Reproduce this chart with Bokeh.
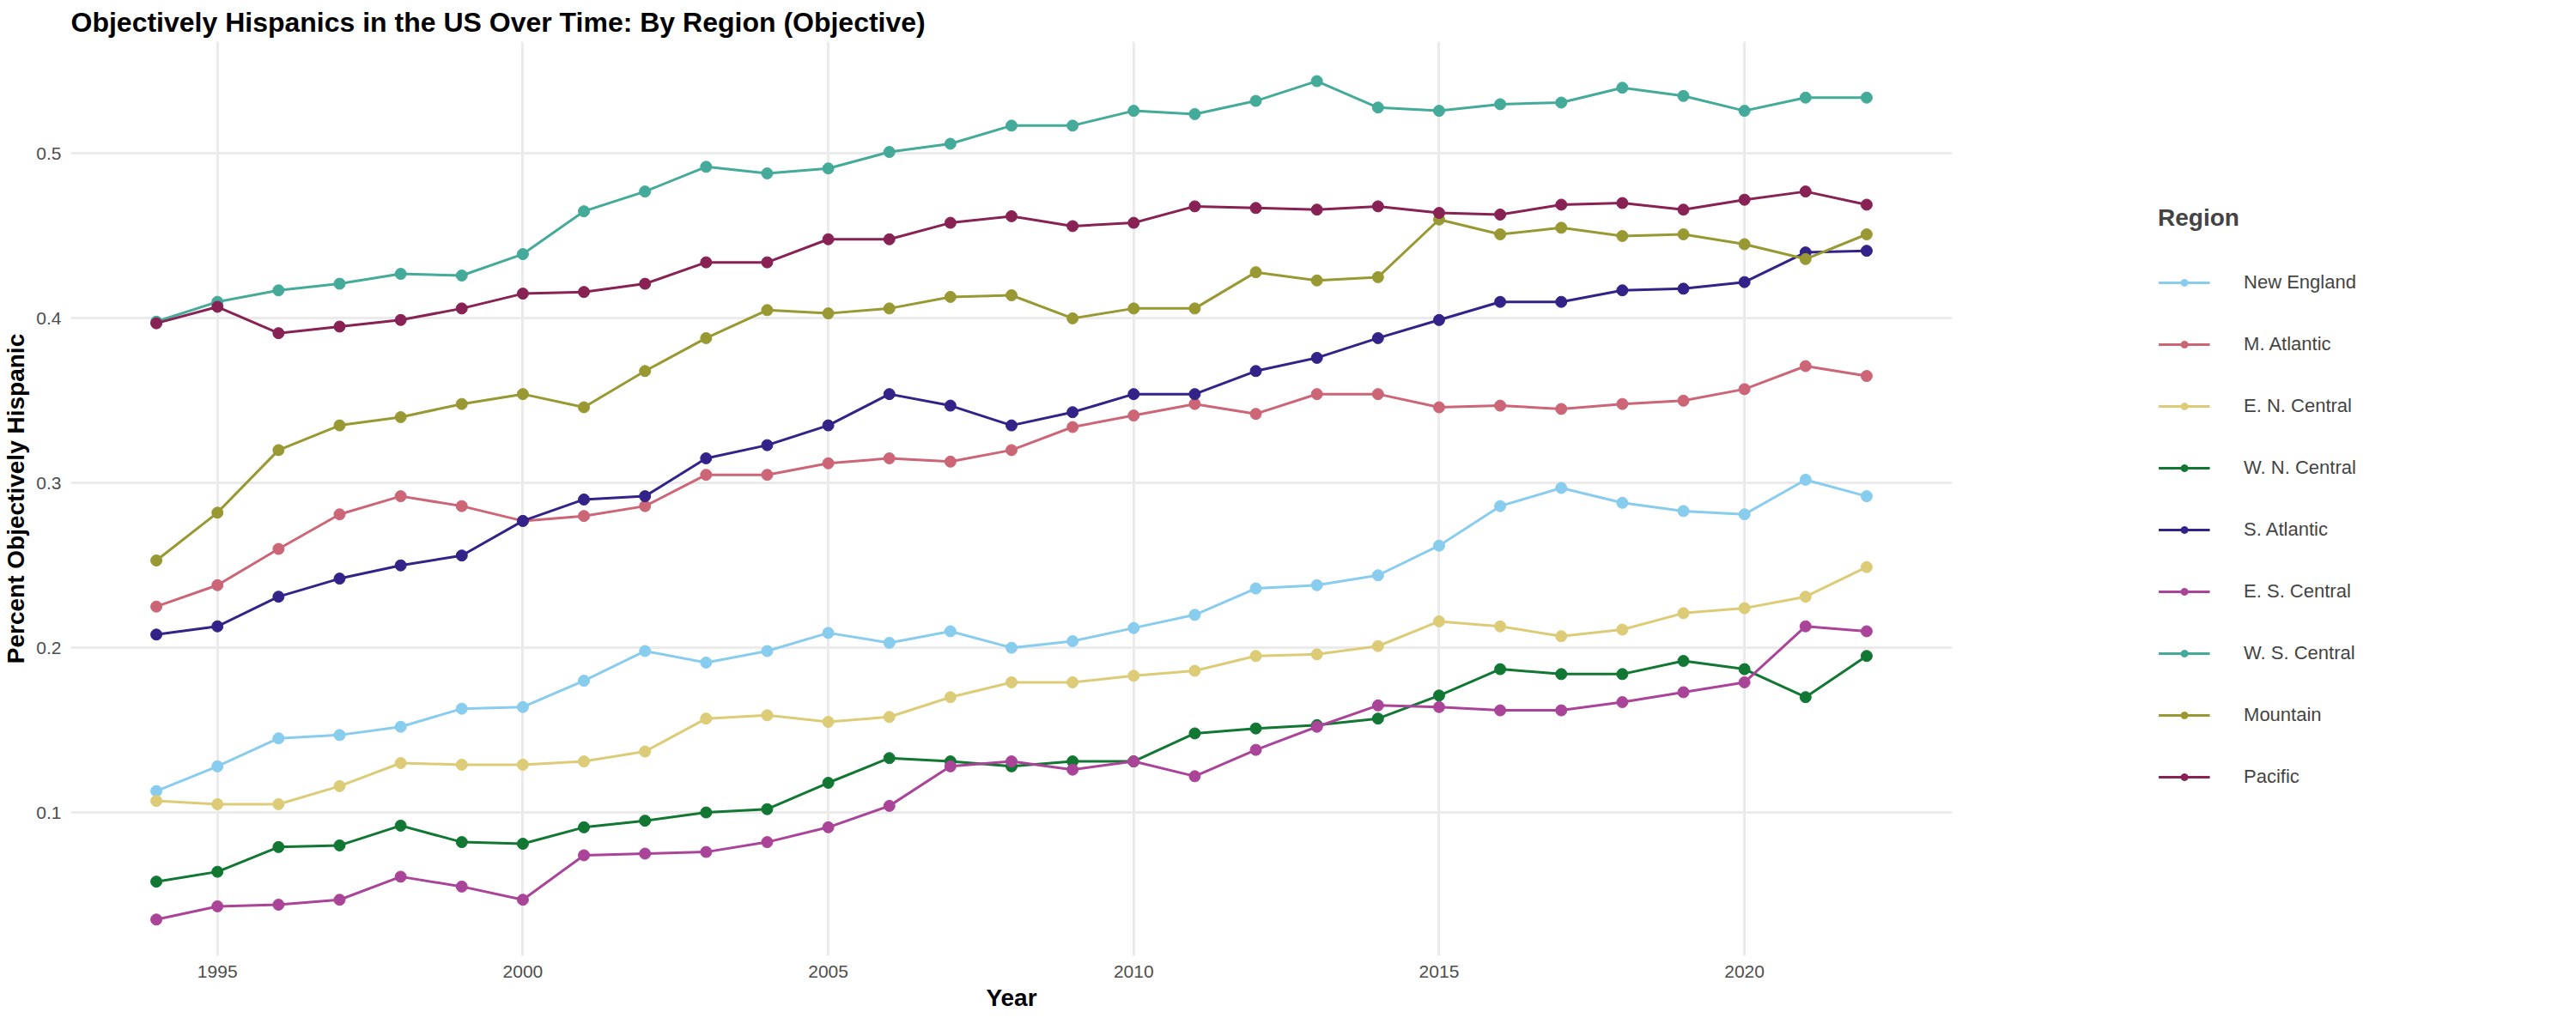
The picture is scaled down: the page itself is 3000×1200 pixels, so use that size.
from bokeh.plotting import figure
from bokeh.models import Legend, LegendItem, FixedTicker
from bokeh.embed import file_html
from bokeh.resources import INLINE

years = list(range(1994, 2023))

regions = ["New England", "M. Atlantic", "E. N. Central", "W. N. Central", "S. Atlantic",
           "E. S. Central", "W. S. Central", "Mountain", "Pacific"]
colors = ["#88CCEE", "#CC6677", "#DDCC77", "#117733", "#332288",
          "#AA4499", "#44AA99", "#999933", "#882255"]

new_england = [.113, .128, .145, .147, .152, .163, .164, .180, .198, .191, .198, .209, .203, .210, .200,
               .204, .212, .220, .236, .238, .244, .262, .286, .297, .288, .283, .281, .302, .292]
m_atlantic = [.225, .238, .260, .281, .292, .286, .277, .280, .286, .305, .305, .312, .315, .313, .320,
              .334, .341, .348, .342, .354, .354, .346, .347, .345, .348, .350, .357, .371, .365]
en_central = [.107, .105, .105, .116, .130, .129, .129, .131, .137, .157, .159, .155, .158, .170, .179,
              .179, .183, .186, .195, .196, .201, .216, .213, .207, .211, .221, .224, .231, .249]
wn_central = [.058, .064, .079, .080, .092, .082, .081, .091, .095, .100, .102, .118, .133, .131, .128,
              .131, .131, .148, .151, .153, .157, .171, .187, .184, .184, .192, .187, .170, .195]
s_atlantic = [.208, .213, .231, .242, .250, .256, .277, .290, .292, .315, .323, .335, .354, .347, .335,
              .343, .354, .354, .368, .376, .388, .399, .410, .410, .417, .418, .422, .440, .441]
es_central = [.035, .043, .044, .047, .061, .055, .047, .074, .075, .076, .082, .091, .104, .128, .131,
              .126, .131, .122, .138, .152, .165, .164, .162, .162, .167, .173, .179, .213, .210]
ws_central = [.398, .410, .417, .421, .427, .426, .439, .465, .477, .492, .488, .491, .501, .506, .517,
              .517, .526, .524, .532, .544, .528, .526, .530, .531, .540, .535, .526, .534, .534]
mountain = [.253, .282, .320, .335, .340, .348, .354, .346, .368, .388, .405, .403, .406, .413, .414,
            .400, .406, .406, .428, .423, .425, .460, .451, .455, .450, .451, .445, .436, .451]
pacific = [.397, .407, .391, .395, .399, .406, .415, .416, .421, .434, .434, .448, .448, .458, .462,
           .456, .458, .468, .467, .466, .468, .464, .463, .469, .470, .466, .472, .477, .469]

series = [new_england, m_atlantic, en_central, wn_central, s_atlantic,
          es_central, ws_central, mountain, pacific]

p = figure(width=2984, height=1180, output_backend="svg", toolbar_location=None,
           title="Objectively Hispanics in the US Over Time: By Region (Objective)",
           x_range=(1992.6, 2023.4), y_range=(0.013, 0.568),
           min_border_left=20, min_border_top=20, min_border_bottom=20, min_border_right=20)

items = []
for name, col, vals in zip(regions, colors, series):
    l = p.line(years, vals, line_color=col, line_width=3)
    c = p.scatter(years, vals, color=col, size=13)
    items.append(LegendItem(label=name, renderers=[l, c]))

legend = Legend(items=items, title="Region", location="center",
                title_text_font_style="bold", title_text_font_size="28px",
                title_text_font="Liberation Sans", label_text_font="Liberation Sans",
                label_text_font_size="22px", label_standoff=40,
                glyph_width=60, spacing=34, label_height=38,
                border_line_color=None, background_fill_alpha=0,
                title_standoff=40, margin=20, padding=10)
p.add_layout(legend, "right")

p.title.text_font_size = "32px"
p.title.text_font = "Liberation Sans"
p.title.text_font_style = "bold"
p.title.text_color = "black"

p.xaxis.axis_label = "Year"
p.yaxis.axis_label = "Percent Objectively Hispanic"
for ax in (p.xaxis, p.yaxis):
    ax.axis_label_text_font_size = "28px"
    ax.axis_label_text_font_style = "bold"
    ax.axis_label_text_font = "Liberation Sans"
    ax.axis_label_text_color = "black"
    ax.major_label_text_font_size = "21px"
    ax.major_label_text_color = "#4d4d4d"
    ax.major_label_text_font = "Liberation Sans"
    ax.axis_line_color = None
    ax.major_tick_line_color = None
    ax.minor_tick_line_color = None

p.xaxis.ticker = FixedTicker(ticks=[1995, 2000, 2005, 2010, 2015, 2020])
p.yaxis.ticker = FixedTicker(ticks=[0.1, 0.2, 0.3, 0.4, 0.5])
p.xgrid.ticker = FixedTicker(ticks=[1995, 2000, 2005, 2010, 2015, 2020])
p.ygrid.ticker = FixedTicker(ticks=[0.1, 0.2, 0.3, 0.4, 0.5])
p.grid.grid_line_color = "#ebebeb"
p.grid.grid_line_width = 3
p.outline_line_color = None

open("out.html", "w").write(file_html(p, INLINE))
